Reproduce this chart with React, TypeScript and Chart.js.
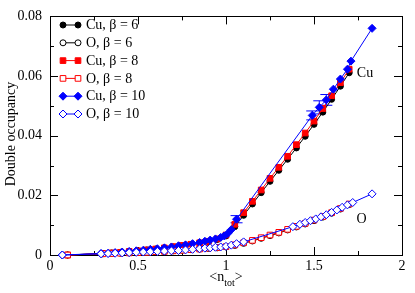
import React, { useEffect, useRef } from "react";
import { Chart, registerables } from "chart.js";

Chart.register(...registerables);

// ---- data ----
const nCuB6 = [0.10, 0.30, 0.35, 0.40, 0.45, 0.50, 0.55, 0.60, 0.65, 0.70, 0.75, 0.80, 0.85, 0.90, 0.95, 1.00, 1.05, 1.10, 1.15, 1.20, 1.25, 1.30, 1.35, 1.40, 1.45, 1.50, 1.55, 1.60, 1.65, 1.70];
const dCuB6 = [0, 0.0005, 0.0007, 0.0009, 0.0011, 0.0014, 0.0017, 0.0020, 0.0023, 0.0027, 0.0031, 0.0035, 0.0040, 0.0045, 0.0052, 0.0064, 0.0095, 0.0133, 0.0171, 0.0209, 0.0247, 0.0284, 0.0321, 0.0359, 0.0398, 0.0438, 0.0479, 0.0522, 0.0566, 0.0611];
const nOB6 = [0.10, 0.30, 0.35, 0.40, 0.45, 0.50, 0.55, 0.60, 0.65, 0.70, 0.75, 0.80, 0.85, 0.90, 0.95, 1.00, 1.05, 1.10, 1.15, 1.20, 1.25, 1.30, 1.35, 1.40, 1.45, 1.50, 1.55, 1.60, 1.65, 1.70];
const dOB6 = [0, 0.0004, 0.0005, 0.0006, 0.0007, 0.0008, 0.0009, 0.0010, 0.0012, 0.0014, 0.0016, 0.0018, 0.0020, 0.0022, 0.0024, 0.0027, 0.0032, 0.0039, 0.0047, 0.0056, 0.0065, 0.0074, 0.0084, 0.0094, 0.0104, 0.0115, 0.0127, 0.0140, 0.0154, 0.0169];
const nCuB8 = [0.10, 0.30, 0.35, 0.40, 0.45, 0.50, 0.55, 0.60, 0.65, 0.70, 0.75, 0.80, 0.85, 0.90, 0.95, 1.00, 1.05, 1.10, 1.15, 1.20, 1.25, 1.30, 1.35, 1.40, 1.45, 1.50, 1.55, 1.60, 1.65, 1.70];
const dCuB8 = [0, 0.0005, 0.0007, 0.0009, 0.0012, 0.0014, 0.0017, 0.0020, 0.0024, 0.0028, 0.0032, 0.0036, 0.0041, 0.0046, 0.0054, 0.0067, 0.0103, 0.0142, 0.0180, 0.0218, 0.0257, 0.0294, 0.0331, 0.0370, 0.0409, 0.0449, 0.0491, 0.0534, 0.0578, 0.0623];
const nOB8 = [0.10, 0.30, 0.35, 0.40, 0.45, 0.50, 0.55, 0.60, 0.65, 0.70, 0.75, 0.80, 0.85, 0.90, 0.95, 1.00, 1.05, 1.10, 1.15, 1.20, 1.25, 1.30, 1.35, 1.40, 1.45, 1.50, 1.55, 1.60, 1.65, 1.70];
const dOB8 = [0, 0.0004, 0.0005, 0.0006, 0.0007, 0.0008, 0.0009, 0.0011, 0.0012, 0.0014, 0.0016, 0.0018, 0.0020, 0.0023, 0.0025, 0.0028, 0.0034, 0.0041, 0.0049, 0.0058, 0.0067, 0.0076, 0.0086, 0.0096, 0.0106, 0.0117, 0.0129, 0.0142, 0.0156, 0.0171];
const nCuB10 = [0.07, 0.29, 0.33, 0.37, 0.41, 0.45, 0.49, 0.53, 0.57, 0.61, 0.65, 0.69, 0.73, 0.77, 0.81, 0.85, 0.88, 0.91, 0.94, 0.97, 0.99, 1.01, 1.03, 1.06, 1.49, 1.53, 1.57, 1.61, 1.65, 1.69, 1.71, 1.83];
const dCuB10 = [0, 0.0005, 0.0006, 0.0008, 0.0010, 0.0012, 0.0014, 0.0016, 0.0019, 0.0021, 0.0024, 0.0027, 0.0031, 0.0034, 0.0038, 0.0042, 0.0046, 0.0050, 0.0054, 0.0059, 0.0064, 0.0072, 0.0085, 0.0120, 0.0468, 0.0495, 0.0520, 0.0556, 0.0590, 0.0623, 0.0650, 0.0760];
const eCuB10 = [0, 0, 0, 0, 0, 0, 0, 0, 0, 0, 0, 0, 0, 0, 0, 0, 0, 0, 0, 0, 0, 0, 0, 0.0012, 0.0015, 0.0022, 0.0018, 0, 0, 0, 0, 0];
const nOB10 = [0.07, 0.29, 0.33, 0.37, 0.41, 0.45, 0.49, 0.53, 0.57, 0.61, 0.65, 0.69, 0.73, 0.77, 0.81, 0.85, 0.88, 0.91, 0.94, 0.97, 1.00, 1.03, 1.06, 1.10, 1.38, 1.42, 1.45, 1.48, 1.51, 1.54, 1.57, 1.60, 1.63, 1.66, 1.69, 1.72, 1.83];
const dOB10 = [0, 0.0004, 0.0005, 0.0006, 0.0007, 0.0008, 0.0009, 0.0010, 0.0011, 0.0012, 0.0013, 0.0014, 0.0015, 0.0017, 0.0019, 0.0021, 0.0023, 0.0024, 0.0026, 0.0027, 0.0029, 0.0033, 0.0038, 0.0044, 0.0095, 0.0103, 0.0109, 0.0115, 0.0121, 0.0128, 0.0135, 0.0143, 0.0151, 0.0160, 0.0168, 0.0176, 0.0205];

const legendLabels = ["Cu, β = 6", "O, β = 6", "Cu, β = 8", "O, β = 8", "Cu, β = 10", "O, β = 10"];
const curveLabels = ["Cu", "O"];
const curveLabelPos = [[1.79, 0.0608], [1.77, 0.0121]];
const xTickValues = [0, 0.5, 1, 1.5, 2];
const yTickValues = [0, 0.02, 0.04, 0.06, 0.08];
const yTitle = "Double occupancy";

const FONT = "'Liberation Serif', 'Times New Roman', serif";

type Style = { color: string; fill: boolean; shape: "circle" | "rect" | "rectRot"; r: number };
const styles: Style[] = [
  { color: "#000000", fill: true, shape: "circle", r: 3 },
  { color: "#000000", fill: false, shape: "circle", r: 3 },
  { color: "#ff0000", fill: true, shape: "rect", r: 4 },
  { color: "#ff0000", fill: false, shape: "rect", r: 4 },
  { color: "#0000ff", fill: true, shape: "rectRot", r: 4 },
  { color: "#0000ff", fill: false, shape: "rectRot", r: 4 },
];

function drawMarker(ctx: CanvasRenderingContext2D, s: Style, x: number, y: number) {
  ctx.save();
  ctx.beginPath();
  if (s.shape === "circle") {
    ctx.arc(x, y, s.r, 0, Math.PI * 2);
  } else if (s.shape === "rect") {
    const h = s.r * Math.SQRT1_2;
    ctx.rect(x - h, y - h, 2 * h, 2 * h);
  } else {
    ctx.moveTo(x, y - s.r);
    ctx.lineTo(x + s.r, y);
    ctx.lineTo(x, y + s.r);
    ctx.lineTo(x - s.r, y);
    ctx.closePath();
  }
  ctx.fillStyle = s.fill ? s.color : "#ffffff";
  ctx.fill();
  ctx.lineWidth = 1;
  ctx.strokeStyle = s.color;
  ctx.stroke();
  ctx.restore();
}

function fmt(v: number) {
  return String(Number(v.toFixed(3)));
}

const framePlugin = {
  id: "frame",
  beforeDatasetsDraw(chart: any) {
    const { ctx, chartArea: a } = chart;
    const xs = chart.scales.x;
    const ys = chart.scales.y;
    ctx.save();
    ctx.strokeStyle = "#000";
    ctx.lineWidth = 1;
    const maj = 8, min = 4;
    ctx.beginPath();
    for (let v = 0; v <= 2.0001; v += 0.25) {
      const px = Math.round(xs.getPixelForValue(v)) + 0.5;
      const len = Math.abs(v * 2 - Math.round(v * 2)) < 1e-6 ? maj : min;
      ctx.moveTo(px, a.bottom); ctx.lineTo(px, a.bottom - len);
      ctx.moveTo(px, a.top); ctx.lineTo(px, a.top + len);
    }
    for (let i = 0; i <= 8; i++) {
      const v = i * 0.01;
      const py = Math.round(ys.getPixelForValue(v)) + 0.5;
      const len = i % 2 === 0 ? maj : min;
      ctx.moveTo(a.left, py); ctx.lineTo(a.left + len, py);
      ctx.moveTo(a.right, py); ctx.lineTo(a.right - len, py);
    }
    ctx.stroke();
    ctx.strokeRect(Math.round(a.left) + 0.5, Math.round(a.top) + 0.5, Math.round(a.right - a.left), Math.round(a.bottom - a.top));
    ctx.strokeStyle = "#0000ff";
    ctx.beginPath();
    nCuB10.forEach((n, i) => {
      const e = eCuB10[i];
      if (!e) return;
      const px = xs.getPixelForValue(n);
      const y1 = ys.getPixelForValue(dCuB10[i] - e);
      const y2 = ys.getPixelForValue(dCuB10[i] + e);
      ctx.moveTo(px, y1); ctx.lineTo(px, y2);
      ctx.moveTo(px - 6, y1); ctx.lineTo(px + 6, y1);
      ctx.moveTo(px - 6, y2); ctx.lineTo(px + 6, y2);
    });
    ctx.stroke();
    ctx.restore();
  },
  afterDraw(chart: any) {
    const { ctx } = chart;
    const xs = chart.scales.x;
    const ys = chart.scales.y;
    ctx.save();
    ctx.font = `14px ${FONT}`;
    ctx.textBaseline = "middle";
    ctx.textAlign = "left";
    legendLabels.forEach((lab, i) => {
      const y = 25 + i * 17.8;
      const s = styles[i];
      ctx.strokeStyle = s.color;
      ctx.lineWidth = 1;
      ctx.beginPath();
      ctx.moveTo(63, y); ctx.lineTo(78, y);
      ctx.stroke();
      drawMarker(ctx, s, 63, y);
      drawMarker(ctx, s, 78, y);
      ctx.fillStyle = "#000";
      ctx.fillText(lab, 86, y + 0.5);
    });
    ctx.textAlign = "center";
    curveLabels.forEach((lab, i) => {
      ctx.fillText(lab, xs.getPixelForValue(curveLabelPos[i][0]), ys.getPixelForValue(curveLabelPos[i][1]));
    });
    ctx.save();
    ctx.translate(11, 134);
    ctx.rotate(-Math.PI / 2);
    ctx.textAlign = "center";
    ctx.fillText(yTitle, 0, 0);
    ctx.restore();
    ctx.textAlign = "left";
    ctx.textBaseline = "alphabetic";
    const part1 = "<n", sub = "tot", part3 = ">";
    ctx.font = `14px ${FONT}`;
    const w1 = ctx.measureText(part1).width;
    const w3 = ctx.measureText(part3).width;
    ctx.font = `10px ${FONT}`;
    const w2 = ctx.measureText(sub).width;
    const total = w1 + w2 + w3;
    const cx = xs.getPixelForValue(1);
    const x0 = cx - total / 2;
    const base = 281;
    ctx.font = `14px ${FONT}`;
    ctx.fillText(part1, x0, base);
    ctx.font = `10px ${FONT}`;
    ctx.fillText(sub, x0 + w1, base + 5);
    ctx.font = `14px ${FONT}`;
    ctx.fillText(part3, x0 + w1 + w2, base);
    ctx.restore();
  },
};

function mk(ns: number[], ds: number[], idx: number, label: string, order: number) {
  const s = styles[idx];
  return {
    label,
    data: ns.map((n, i) => ({ x: n, y: ds[i] })),
    showLine: true,
    borderColor: s.color,
    borderWidth: 1,
    backgroundColor: s.fill ? s.color : "#ffffff",
    pointBackgroundColor: s.fill ? s.color : "#ffffff",
    pointBorderColor: s.color,
    pointBorderWidth: 1,
    pointStyle: s.shape,
    pointRadius: s.r,
    pointHoverRadius: s.r,
    tension: 0,
    clip: false,
    order,
  };
}

export default function App() {
  const ref = useRef<HTMLCanvasElement>(null);
  useEffect(() => {
    if (!ref.current) return;
    const chart = new Chart(ref.current, {
      type: "scatter",
      data: {
        datasets: [
          mk(nCuB6, dCuB6, 0, legendLabels[0], 5),
          mk(nOB6, dOB6, 1, legendLabels[1], 4),
          mk(nCuB8, dCuB8, 2, legendLabels[2], 3),
          mk(nOB8, dOB8, 3, legendLabels[3], 2),
          mk(nCuB10, dCuB10, 4, legendLabels[4], 1),
          mk(nOB10, dOB10, 5, legendLabels[5], 0),
        ] as any,
      },
      options: {
        animation: false,
        responsive: false,
        devicePixelRatio: 1,
        events: [],
        layout: { padding: { top: 7, right: 13, left: 0, bottom: 0 } },
        plugins: { legend: { display: false }, tooltip: { enabled: false } },
        scales: {
          x: {
            type: "linear",
            min: 0,
            max: 2,
            grid: { display: false, drawTicks: false },
            border: { display: false },
            afterFit: (s: any) => { s.height = 38; },
            afterBuildTicks: (s: any) => { s.ticks = xTickValues.map((v) => ({ value: v })); },
            ticks: {
              color: "#000",
              font: { family: FONT, size: 14 },
              padding: 3,
              maxRotation: 0,
              autoSkip: false,
              callback: (v: any) => fmt(Number(v)),
            },
          },
          y: {
            type: "linear",
            min: 0,
            max: 0.08,
            grid: { display: false, drawTicks: false },
            border: { display: false },
            afterFit: (s: any) => { s.width = 50; },
            afterBuildTicks: (s: any) => { s.ticks = yTickValues.map((v) => ({ value: v })); },
            ticks: {
              color: "#000",
              font: { family: FONT, size: 14 },
              padding: 8,
              autoSkip: false,
              callback: (v: any) => fmt(Number(v)),
            },
          },
        },
      } as any,
      plugins: [framePlugin],
    });
    return () => chart.destroy();
  }, []);
  return (
    <div style={{ position: "absolute", left: 0, top: 0, width: 415, height: 293, background: "#fff" }}>
      <canvas ref={ref} width={415} height={293} style={{ width: 415, height: 293, display: "block" }} />
    </div>
  );
}
